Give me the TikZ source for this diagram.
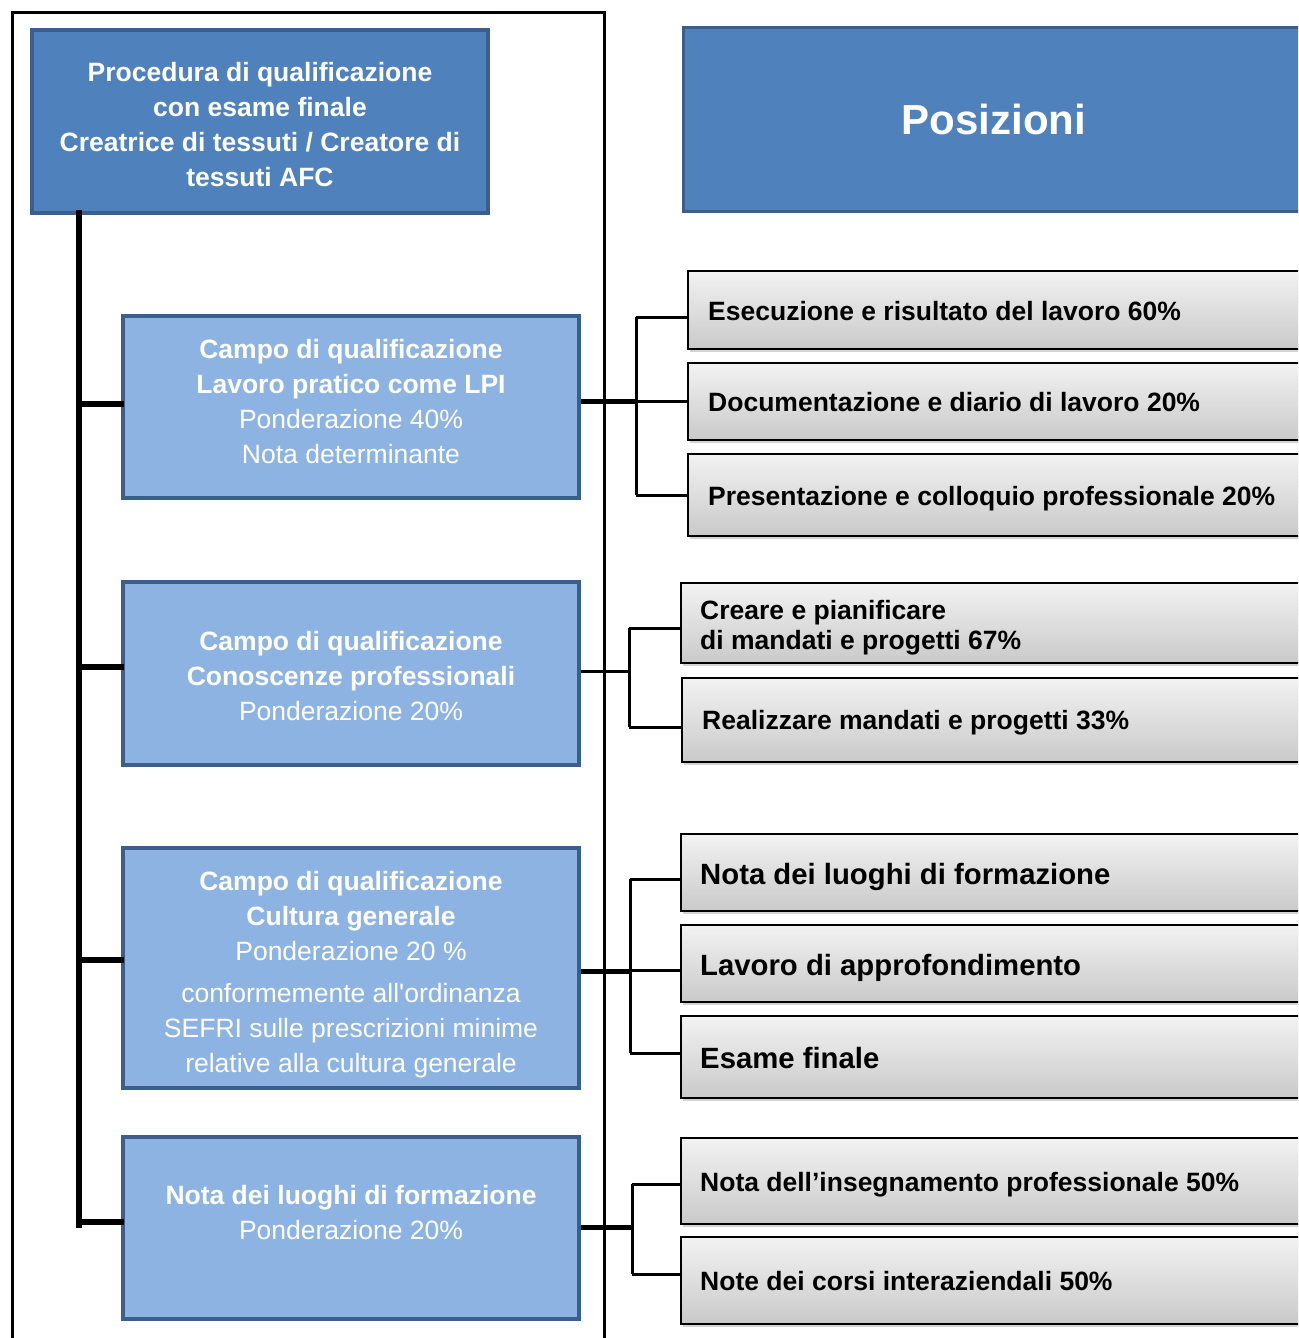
\documentclass[tikz,border=0pt]{standalone}
\usepackage{fontspec}
\setmainfont{Liberation Sans}
\usetikzlibrary{shadows}
\definecolor{darkblue}{HTML}{4F81BD}
\definecolor{edgeblue}{HTML}{3A5F8C}
\definecolor{lightblue}{HTML}{8DB3E2}
\begin{document}
\begin{tikzpicture}[x=1pt,y=-1pt,
  topbox/.style={draw=edgeblue, fill=darkblue, line width=4pt, inner sep=0pt},
  toptxt/.style={text=white, font=\bfseries\fontsize{26.5}{35}\selectfont, align=center, inner sep=0pt},
  bluebox/.style={draw=edgeblue, fill=lightblue, line width=4pt, inner sep=0pt, minimum width=456pt},
  bluetxt/.style={text=white, align=center, inner sep=0pt, font=\fontsize{26.5}{35}\selectfont},
  graybox/.style={draw=black, line width=1.6pt, top color=gray!10, bottom color=gray!42,
    drop shadow={opacity=0.35, shadow xshift=2pt, shadow yshift=-3pt},
    inner sep=0pt, anchor=west},
  graytxt/.style={font=\bfseries\fontsize{26.5}{30}\selectfont, align=left, inner sep=0pt, anchor=west},
  bigtxt/.style={graytxt, font=\bfseries\fontsize{29.3}{34}\selectfont},
  trunk/.style={line width=6pt, line cap=rect},
  thickc/.style={line width=5pt},
  thinc/.style={line width=3pt},
  framec/.style={line width=3pt}
]
\useasboundingbox (0,0) rectangle (1298,1338);
\clip (0,0) rectangle (1298,1338);

% frame
\coordinate (fbl) at (12,1345);
\coordinate (ftl) at (12,13);
\coordinate (ftr) at (604,13);
\coordinate (fbr) at (604,1345);
\draw[framec] (fbl) -- (ftl) -- (ftr) -- (fbr);

% top boxes
\node[topbox, minimum width=456pt, minimum height=183pt] (top) at (260,121.5) {};
\node[toptxt] (topt) at ([yshift=-3pt]top.center)
  {Procedura di qualificazione\\con esame finale\\Creatrice di tessuti / Creatore di\\tessuti AFC};
\node[draw=edgeblue, fill=darkblue, line width=3pt, text=white, inner sep=0pt,
  minimum width=622pt, minimum height=183pt,
  font=\bfseries\fontsize{42}{50}\selectfont] (pos) at (994,119.5) {Posizioni};

% blue boxes
\node[bluebox, minimum height=182pt] (b1) at (351,407) {};
\node[bluetxt] (b1t) at ([yshift=5.5pt]b1.center)
  {\textbf{Campo di qualificazione}\\\textbf{Lavoro pratico come LPI}\\Ponderazione 40\%\\Nota determinante};
\node[bluebox, minimum height=183pt] (b2) at (351,673.5) {};
\node[bluetxt] (b2t) at ([yshift=-3pt]b2.center)
  {\textbf{Campo di qualificazione}\\\textbf{Conoscenze professionali}\\Ponderazione 20\%};
\node[bluebox, minimum height=240pt] (b3) at (351,968) {};
\node[bluetxt] (b3t) at ([yshift=-7pt]b3.center)
  {\textbf{Campo di qualificazione}\\\textbf{Cultura generale}\\Ponderazione 20 \%\\[7pt]conformemente all\textquotesingle ordinanza\\SEFRI sulle prescrizioni minime\\relative alla cultura generale};
\node[bluebox, minimum height=182pt] (b4) at (351,1228) {};
\node[bluetxt] (b4t) at ([yshift=15pt]b4.center)
  {\textbf{Nota dei luoghi di formazione}\\Ponderazione 20\%};

% gray boxes
\node[graybox, minimum width=633pt, minimum height=78pt] (r1) at (687,310) {};
\node[graytxt] (r1t) at ([xshift=21pt,yshift=-1pt]r1.west) {Esecuzione e risultato del lavoro 60\%};
\node[graybox, minimum width=633pt, minimum height=77pt] (r2) at (687,401.5) {};
\node[graytxt] (r2t) at ([xshift=21pt,yshift=-1pt]r2.west) {Documentazione e diario di lavoro 20\%};
\node[graybox, minimum width=633pt, minimum height=82pt] (r3) at (687,495) {};
\node[graytxt] (r3t) at ([xshift=21pt,yshift=-4pt]r3.west) {Presentazione e colloquio professionale 20\%};
\node[graybox, minimum width=640pt, minimum height=80pt] (r4) at (680,623) {};
\node[graytxt] (r4t) at ([xshift=20pt,yshift=-5pt]r4.west) {Creare e pianificare\\di mandati e progetti 67\%};
\node[graybox, minimum width=640pt, minimum height=84pt] (r5) at (681,720) {};
\node[graytxt] (r5t) at ([xshift=21pt,yshift=-3pt]r5.west) {Realizzare mandati e progetti 33\%};
\node[graybox, minimum width=640pt, minimum height=77pt] (r6) at (680,872.5) {};
\node[bigtxt] (r6t) at ([xshift=20pt,yshift=-4pt]r6.west) {Nota dei luoghi di formazione};
\node[graybox, minimum width=640pt, minimum height=77pt] (r7) at (680,963.5) {};
\node[bigtxt] (r7t) at ([xshift=20pt,yshift=-4pt]r7.west) {Lavoro di approfondimento};
\node[graybox, minimum width=640pt, minimum height=82pt] (r8) at (680,1057) {};
\node[bigtxt] (r8t) at ([xshift=20pt,yshift=-1pt]r8.west) {Esame finale};
\node[graybox, minimum width=640pt, minimum height=86pt] (r9) at (680,1181) {};
\node[graytxt] (r9t) at ([xshift=20pt,yshift=-4pt]r9.west) {Nota dell’insegnamento professionale 50\%};
\node[graybox, minimum width=640pt, minimum height=87pt] (r10) at (680,1280.5) {};
\node[graytxt] (r10t) at ([xshift=20pt,yshift=-1pt]r10.west) {Note dei corsi interaziendali 50\%};

% trunk
\coordinate (tTop) at (79,213);
\coordinate (tBot) at (79,1225);
\draw[trunk] (tTop) -- (tBot);
\path ([yshift=3pt]b1.west) coordinate (l1)
      ([yshift=6.5pt]b2.west) coordinate (l2)
      ([yshift=8pt]b3.west) coordinate (l3)
      ([yshift=6pt]b4.west) coordinate (l4);
\foreach \l in {l1,l2,l3,l4} \draw[trunk] (\l -| tTop) -- (\l);

% group 1
\path ([yshift=6pt]b1.east) coordinate (e1)
      ([yshift=-7pt]r1.west) coordinate (p1)
      (r2.west) coordinate (p2)
      (r3.west) coordinate (p3);
\draw[thickc] (e1) -- ++(55,0) coordinate (v1);
\draw[thinc] (v1 |- p1) -- (v1 |- p3);
\foreach \p in {p1,p2,p3} \draw[thinc] (v1 |- \p) -- (\p);

% group 2
\path ([yshift=2.5pt]b2.east) coordinate (e2)
      ([yshift=-5pt]r4.west) coordinate (p4)
      ([yshift=-7pt]r5.west) coordinate (p5);
\draw[thinc] (e2) -- ++(48,0) coordinate (v2);
\draw[thinc] (v2 |- p4) -- (v2 |- p5);
\foreach \p in {p4,p5} \draw[thinc] (v2 |- \p) -- (\p);

% group 3
\path ([yshift=-3pt]b3.east) coordinate (e3)
      ([yshift=-6.5pt]r6.west) coordinate (p6)
      ([yshift=-6.5pt]r7.west) coordinate (p7)
      ([yshift=4pt]r8.west) coordinate (p8);
\draw[thickc] (e3) -- ++(49,0) coordinate (v3);
\draw[thinc] (v3 |- p6) -- (v3 |- p8);
\foreach \p in {p6,p7,p8} \draw[thinc] (v3 |- \p) -- (\p);

% group 4
\path ([yshift=1pt]b4.east) coordinate (e4)
      ([yshift=-3pt]r9.west) coordinate (p9)
      ([yshift=6.5pt]r10.west) coordinate (p10);
\draw[thickc] (e4) -- ++(51,0) coordinate (v4);
\draw[thinc] (v4 |- p9) -- (v4 |- p10);
\foreach \p in {p9,p10} \draw[thinc] (v4 |- \p) -- (\p);
\end{tikzpicture}
\end{document}
